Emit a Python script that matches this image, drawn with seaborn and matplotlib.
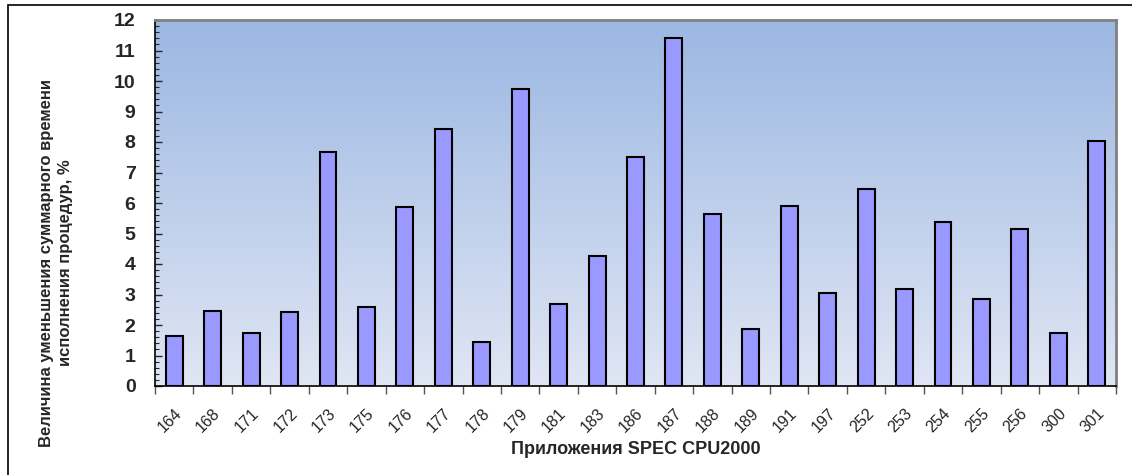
import numpy as np
import pandas as pd
import matplotlib
matplotlib.use("Agg")
import matplotlib.pyplot as plt
import seaborn as sns
from matplotlib.patches import Rectangle

apps = ["164", "168", "171", "172", "173", "175", "176", "177", "178", "179", "181",
        "183", "186", "187", "188", "189", "191", "197", "252", "253", "254", "255",
        "256", "300", "301"]
values = [1.64, 2.47, 1.73, 2.44, 7.68, 2.58, 5.88, 8.41, 1.45, 9.75, 2.68,
          4.27, 7.52, 11.42, 5.65, 1.88, 5.91, 3.06, 6.45, 3.19, 5.39, 2.86,
          5.14, 1.73, 8.04]
yticks = list(range(0, 13))
xlabel = "Приложения SPEC CPU2000"
ylabel = "Величина уменьшения суммарного времени\nисполнения процедур, %"

sns.set_style("white")
plt.rcParams['font.family'] = ['Liberation Sans', 'DejaVu Sans']

df = pd.DataFrame({"app": apps, "val": values})

fig = plt.figure(figsize=(11.32, 4.75), dpi=100)
ax = fig.add_axes([155/1132, 1 - 386/475, (1116-155)/1132, (386-20)/475])

# gradient background
grad = np.linspace(0, 1, 256).reshape(-1, 1)
top = np.array([155, 183, 226]) / 255
bot = np.array([224, 230, 244]) / 255
img = top * (1 - grad[..., None]) + bot * grad[..., None]
img = img.reshape(256, 1, 3)
ax.imshow(img, extent=[-0.5, len(apps) - 0.5, 0, 12], aspect='auto', zorder=0,
          origin='upper', interpolation='bilinear')

sns.barplot(data=df, x="app", y="val", color="#9999FF", edgecolor="black",
            linewidth=1.5, width=0.44, saturation=1, ax=ax, zorder=2)

ax.set_xlim(-0.5, len(apps) - 0.5)
ax.set_ylim(0, 12)
ax.set_yticks(yticks)
ax.set_yticklabels([str(t) for t in yticks], fontsize=14, fontweight='bold')
ax.set_yticks(np.arange(0, 12.01, 0.2), minor=True)
ax.tick_params(axis='y', which='major', direction='in', length=5, width=1, pad=14, left=True)
ax.tick_params(axis='y', which='minor', direction='in', length=3, width=0.8, left=True)

ax.set_xticks(range(len(apps)))
ax.set_xticklabels(apps, rotation=45, ha='right', rotation_mode='anchor', fontsize=11.5)
ax.set_xticks(np.arange(-0.5, len(apps), 1.0), minor=True)
ax.tick_params(axis='x', which='major', length=0, pad=14)
ax.tick_params(axis='x', which='minor', direction='out', length=6, width=1, color='#555555', bottom=True)

ax.set_xlabel(xlabel, fontsize=13, fontweight='bold', va='center')
ax.xaxis.set_label_coords(0.5, (386 - 450) / 366)
ax.set_ylabel("")

for s in ['left', 'bottom']:
    ax.spines[s].set_color('black')
    ax.spines[s].set_linewidth(1.2)
for s in ['top', 'right']:
    ax.spines[s].set_color('#808080')
    ax.spines[s].set_linewidth(2)

fig.text(56/1132, 1 - 263/475, ylabel, rotation=90, ha='center', va='center',
         fontsize=12, fontweight='bold', linespacing=1.35)

# outer chart border (top and left visible)
fig.add_artist(Rectangle((8/1132, -0.1), 1.2, 1 - 5/475 + 0.1, transform=fig.transFigure,
                         fill=False, edgecolor='black', linewidth=1.2))

fig.savefig("out.png", dpi=100)
